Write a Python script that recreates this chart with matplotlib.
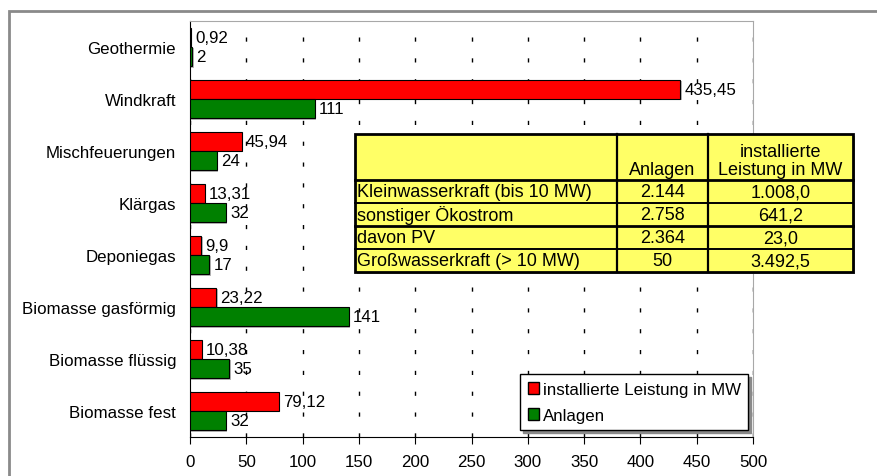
import matplotlib
matplotlib.use('Agg')
import matplotlib.pyplot as plt
import numpy as np
from matplotlib.patches import Rectangle, Patch
import matplotlib.patheffects as pe

plt.rcParams['font.family'] = ['Liberation Sans', 'DejaVu Sans']

categories = ['Geothermie', 'Windkraft', 'Mischfeuerungen', 'Klärgas',
              'Deponiegas', 'Biomasse gasförmig', 'Biomasse flüssig',
              'Biomasse fest']
leistung = [0.92, 435.45, 45.94, 13.31, 9.9, 23.22, 10.38, 79.12]
leistung_labels = ['0,92', '435,45', '45,94', '13,31', '9,9', '23,22',
                   '10,38', '79,12']
anlagen = [2, 111, 24, 32, 17, 141, 35, 32]
anlagen_labels = ['2', '111', '24', '32', '17', '141', '35', '32']

xticks = [0, 50, 100, 150, 200, 250, 300, 350, 400, 450, 500]

# table in the plot
tab_rows = ['Kleinwasserkraft (bis 10 MW)', 'sonstiger Ökostrom', 'davon PV',
            'Großwasserkraft (> 10 MW)']
tab_anlagen = ['2.144', '2.758', '2.364', '50']
tab_leistung = ['1.008,0', '641,2', '23,0', '3.492,5']

W, H = 878, 477
fs = 12.2
tfs = 13

fig = plt.figure(figsize=(W / 100, H / 100), dpi=100)
ax = fig.add_axes([190 / W, 1 - 438 / H, (753 - 190) / W, (438 - 22) / H])

y = np.arange(len(categories))
h = 0.37
shadow = [pe.SimplePatchShadow(offset=(1, -1), shadow_rgbFace='#888888', alpha=0.6), pe.Normal()]
b1 = ax.barh(y - h / 2, leistung, height=h, color='#FF0000', edgecolor='black',
             linewidth=0.8, label='installierte Leistung in MW', zorder=3)
b2 = ax.barh(y + h / 2, anlagen, height=h, color='#008000', edgecolor='black',
             linewidth=0.8, label='Anlagen', zorder=3)
for bar in list(b1) + list(b2):
    bar.set_path_effects(shadow)

for i in range(len(categories)):
    ax.annotate(leistung_labels[i], (leistung[i], y[i] - h / 2), xytext=(3, 0),
                textcoords='offset points', va='center', ha='left', fontsize=fs, zorder=4)
    ax.annotate(anlagen_labels[i], (anlagen[i], y[i] + h / 2), xytext=(3, 0),
                textcoords='offset points', va='center', ha='left', fontsize=fs, zorder=4)

ax.set_xlim(0, 500)
ax.set_ylim(len(categories) - 0.5, -0.5)
ax.set_xticks(xticks)
ax.set_yticks(y)
ax.set_yticklabels(categories, fontsize=fs)
ax.tick_params(axis='y', length=0, pad=10)
ax.tick_params(axis='x', length=5, direction='out', labelsize=fs, pad=7)
ax.xaxis.grid(True, color='black', linewidth=1, linestyle=(0, (3, 12)))
ax.set_axisbelow(True)
for s in ['top', 'right']:
    ax.spines[s].set_color('#A8A8A8')
for s in ['left', 'bottom']:
    ax.spines[s].set_color('black')

leg = ax.legend(handles=[Patch(facecolor='#FF0000', edgecolor='black', label='installierte Leistung in MW'),
                         Patch(facecolor='#008000', edgecolor='black', label='Anlagen')],
                loc='upper left', bbox_to_anchor=(520 / W, 1 - 375 / H),
                bbox_transform=fig.transFigure, borderaxespad=0, fontsize=fs,
                fancybox=False, shadow={'color': '#8a8a8a', 'alpha': 1},
                handlelength=0.7, handleheight=0.7, handletextpad=0.2,
                labelspacing=0.65, borderpad=0.45, framealpha=1)
leg.get_frame().set_edgecolor('black')
leg.get_frame().set_linewidth(1)

# table
tx0, tx1, ty0, ty1 = 355, 853, 135, 273
tax = fig.add_axes([tx0 / W, 1 - ty1 / H, (tx1 - tx0) / W, (ty1 - ty0) / H])
tax.set_xlim(0, tx1 - tx0)
tax.set_ylim(ty1 - ty0, 0)
tax.axis('off')
fig.add_artist(Rectangle(((tx0 + 2) / W, 1 - (ty1 + 2) / H), (tx1 - tx0) / W, (ty1 - ty0) / H,
                         transform=fig.transFigure, facecolor='#999999', edgecolor='none', zorder=4))
tax.set_zorder(5)
tax.add_patch(Rectangle((0, 0), tx1 - tx0, ty1 - ty0, facecolor='#FFFF66',
                        edgecolor='black', linewidth=2, clip_on=False))
c1, c2, c3 = 262, 353, tx1 - tx0
rows_y = [46, 69, 92, 115, 138]
tax.plot([c1, c1], [0, 138], color='black', lw=1.6, clip_on=False)
tax.plot([c2, c2], [0, 138], color='black', lw=1.6, clip_on=False)
for ry, lw in zip(rows_y[:-1], [2, 1.4, 2, 1.4]):
    tax.plot([0, c3], [ry, ry], color='black', lw=lw, clip_on=False)
tax.text((c1 + c2) / 2, 44, 'Anlagen', ha='center', va='bottom', fontsize=tfs)
tax.text((c2 + c3) / 2, 44, 'installierte\nLeistung in MW', ha='center', va='bottom',
         fontsize=tfs, linespacing=1.1)
for i in range(len(tab_rows)):
    yc = (rows_y[i] + rows_y[i + 1]) / 2 + 0.5
    tax.text(2, yc, tab_rows[i], ha='left', va='center', fontsize=tfs)
    tax.text((c1 + c2) / 2, yc, tab_anlagen[i], ha='center', va='center', fontsize=tfs)
    tax.text((c2 + c3) / 2, yc, tab_leistung[i], ha='center', va='center', fontsize=tfs)

# outer frame of the chart object
fig.add_artist(Rectangle((9 / W, -0.5), 2, 0.5 + 1 - 12 / H, transform=fig.transFigure,
                         fill=False, edgecolor='#8A8A8A', linewidth=2))

fig.savefig('out.png', dpi=100)
